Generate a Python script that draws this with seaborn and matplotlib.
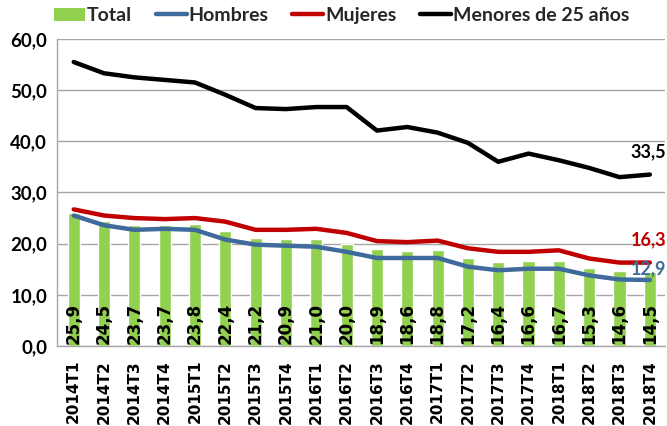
import numpy as np
import pandas as pd
import matplotlib
matplotlib.use("Agg")
import matplotlib.pyplot as plt
import seaborn as sns
from matplotlib.patches import Patch
from matplotlib.lines import Line2D

### Data

periodos = ['2014T1', '2014T2', '2014T3', '2014T4',
            '2015T1', '2015T2', '2015T3', '2015T4',
            '2016T1', '2016T2', '2016T3', '2016T4',
            '2017T1', '2017T2', '2017T3', '2017T4',
            '2018T1', '2018T2', '2018T3', '2018T4']

total = [25.9, 24.5, 23.7, 23.7, 23.8, 22.4, 21.2, 20.9, 21.0, 20.0,
         18.9, 18.6, 18.8, 17.2, 16.4, 16.6, 16.7, 15.3, 14.6, 14.5]

hombres = [25.5, 23.6, 22.7, 22.9, 22.7, 20.8, 19.8, 19.6, 19.4, 18.4,
           17.2, 17.2, 17.2, 15.5, 14.8, 15.1, 15.1, 13.8, 13.0, 12.9]

mujeres = [26.7, 25.5, 25.0, 24.8, 25.0, 24.3, 22.7, 22.7, 22.9, 22.1,
           20.5, 20.3, 20.6, 19.1, 18.4, 18.4, 18.7, 17.1, 16.3, 16.3]

menores25 = [55.5, 53.3, 52.5, 52.0, 51.5, 49.1, 46.5, 46.3, 46.7, 46.7,
             42.1, 42.8, 41.7, 39.7, 36.0, 37.6, 36.3, 34.8, 33.0, 33.5]

y_ticks = [0, 10, 20, 30, 40, 50, 60]

c_total = '#92D050'
c_hombres = '#3F6A9C'
c_mujeres = '#C00000'
c_menores = '#000000'


def fmt(v):
    # Spanish decimal comma
    return f'{v:.1f}'.replace('.', ',')


sns.set_theme(style='white')
plt.rcParams['font.family'] = ['Lato', 'DejaVu Sans']

df = pd.DataFrame({'periodo': periodos, 'pos': np.arange(len(periodos)),
                   'Total': total, 'Hombres': hombres,
                   'Mujeres': mujeres, 'Menores de 25 años': menores25})

fig = plt.figure(figsize=(6.67, 4.26), dpi=100)
ax = fig.add_axes([0.0855, 0.1878, 0.9115, 0.7207])

ax.yaxis.grid(True, color='#A6A6A6', linewidth=1.0, zorder=0)
ax.set_axisbelow(True)

sns.barplot(data=df, x='pos', y='Total', color=c_total, width=0.4,
            saturation=1, native_scale=True, ax=ax, zorder=2)

for col, c in [('Hombres', c_hombres), ('Mujeres', c_mujeres),
               ('Menores de 25 años', c_menores)]:
    sns.lineplot(data=df, x='pos', y=col, color=c, linewidth=3.2,
                 ax=ax, zorder=4)

# bar labels, rotated, at the foot of each bar
for i, v in enumerate(total):
    ax.text(i, 0.4, fmt(v), rotation=90, ha='center', va='bottom',
            fontsize=12, fontweight='bold', family='DejaVu Sans',
            color='black', zorder=5)

# end labels of the lines
last = len(periodos) - 1
ax.annotate(fmt(menores25[-1]), (last, menores25[-1]), xytext=(-1, 10),
            textcoords='offset points', ha='center', va='bottom',
            fontsize=13, fontweight='bold', color=c_menores, zorder=6)
ax.annotate(fmt(mujeres[-1]), (last, mujeres[-1]), xytext=(-1, 10),
            textcoords='offset points', ha='center', va='bottom',
            fontsize=13, fontweight='bold', color=c_mujeres, zorder=6)
ax.annotate(fmt(hombres[-1]), (last, hombres[-1]), xytext=(-1, 2),
            textcoords='offset points', ha='center', va='bottom',
            fontsize=13, fontweight='bold', color=c_hombres, zorder=6)

ax.set_xlim(-0.55, 19.5)
ax.set_ylim(0, 60)
ax.set_yticks(y_ticks)
ax.set_yticklabels([fmt(t) for t in y_ticks], fontsize=13.5, fontweight='bold')
ax.set_xticks(range(len(periodos)))
ax.set_xticklabels(periodos, rotation=90, fontsize=11, fontweight='bold',
                   family='DejaVu Sans')
ax.tick_params(axis='y', length=0, pad=7, colors='black')
ax.tick_params(axis='x', length=0, pad=10, colors='black')
ax.set_xlabel('')
ax.set_ylabel('')

for s in ['top', 'right']:
    ax.spines[s].set_visible(False)
for s in ['left', 'bottom']:
    ax.spines[s].set_color('#A6A6A6')
    ax.spines[s].set_linewidth(1.0)

handles = [Patch(facecolor=c_total, edgecolor='none'),
           Line2D([], [], color=c_hombres, linewidth=3.2),
           Line2D([], [], color=c_mujeres, linewidth=3.2),
           Line2D([], [], color=c_menores, linewidth=3.2)]
labels = ['Total', 'Hombres', 'Mujeres', 'Menores de 25 años']
fig.legend(handles, labels, loc='center', bbox_to_anchor=(0.512, 0.963),
           ncol=4, frameon=False, handlelength=1.6, handletextpad=0.1,
           columnspacing=1.2, prop={'size': 14, 'weight': 'bold'})

fig.savefig('out.png', dpi=100)
